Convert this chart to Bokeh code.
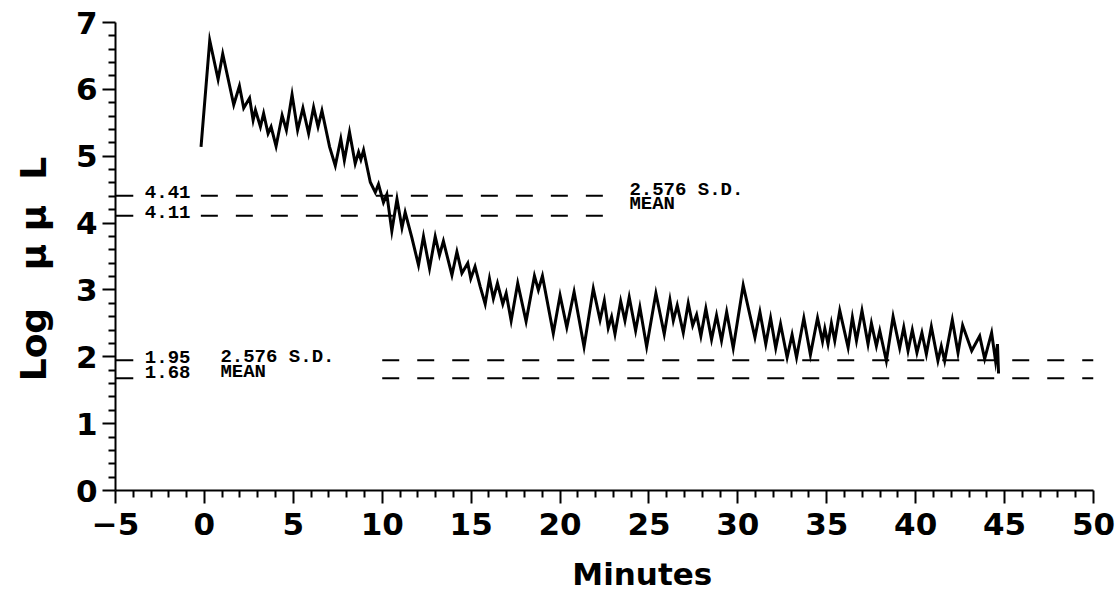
from bokeh.plotting import figure
from bokeh.models import Range1d, FixedTicker, ColumnDataSource
from bokeh.core.properties import value
from bokeh.embed import file_html
from bokeh.resources import INLINE

# ---- data ----
minutes = [-0.19, 0.30, 0.77, 1.03, 1.65, 1.97, 2.21, 2.54, 2.74, 2.87, 3.15, 3.33, 3.58, 3.75,
           4.03, 4.37, 4.61, 4.93, 5.24, 5.54, 5.86, 6.14, 6.39, 6.61, 7.04, 7.36, 7.67, 7.87,
           8.16, 8.48, 8.67, 8.80, 8.95, 9.33, 9.61, 9.79, 10.07, 10.26, 10.54, 10.83, 11.11,
           11.29, 11.67, 12.04, 12.32, 12.66, 12.98, 13.22, 13.44, 13.92, 14.20, 14.48, 14.81,
           14.98, 15.22, 15.51, 15.79, 16.03, 16.25, 16.48, 16.78, 16.97, 17.25, 17.62, 18.09,
           18.56, 18.78, 19.01, 19.62, 20.00, 20.38, 20.79, 21.35, 21.87, 22.25, 22.49, 22.71,
           22.90, 23.09, 23.41, 23.65, 23.89, 24.25, 24.49, 24.87, 25.39, 25.86, 26.18, 26.37,
           26.59, 26.93, 27.21, 27.46, 27.68, 27.92, 28.20, 28.52, 28.80, 29.08, 29.37, 29.74,
           30.30, 30.96, 31.24, 31.57, 31.84, 32.13, 32.40, 32.77, 33.05, 33.30, 33.71, 34.08,
           34.48, 34.76, 34.89, 35.07, 35.26, 35.45, 35.73, 36.20, 36.44, 36.67, 36.98, 37.32,
           37.51, 37.79, 37.98, 38.35, 38.73, 39.10, 39.33, 39.57, 39.81, 40.07, 40.35, 40.60,
           40.88, 41.25, 41.44, 41.63, 42.06, 42.38, 42.64, 43.15, 43.60, 43.88, 44.27, 44.49,
           44.60, 44.66]
log_uul = [5.14, 6.73, 6.15, 6.53, 5.77, 6.05, 5.72, 5.87, 5.54, 5.69, 5.44, 5.64, 5.34, 5.44,
           5.15, 5.61, 5.39, 5.92, 5.39, 5.72, 5.34, 5.73, 5.44, 5.68, 5.14, 4.86, 5.26, 4.94,
           5.36, 4.89, 5.06, 4.95, 5.09, 4.61, 4.46, 4.58, 4.31, 4.43, 3.88, 4.36, 3.93,
           4.16, 3.78, 3.37, 3.80, 3.32, 3.80, 3.52, 3.73, 3.22, 3.57, 3.25, 3.40,
           3.17, 3.35, 3.05, 2.79, 3.17, 2.87, 3.10, 2.79, 2.95, 2.54, 3.10, 2.53,
           3.21, 3.00, 3.21, 2.35, 2.92, 2.44, 2.97, 2.15, 3.02, 2.55, 2.84, 2.43,
           2.60, 2.34, 2.83, 2.54, 2.89, 2.39, 2.74, 2.15, 2.95, 2.34, 2.85, 2.54,
           2.77, 2.36, 2.80, 2.47, 2.63, 2.31, 2.72, 2.26, 2.62, 2.24, 2.67, 2.13,
           3.07, 2.29, 2.67, 2.19, 2.58, 2.13, 2.49, 1.99, 2.33, 1.99, 2.58, 2.03,
           2.58, 2.23, 2.42, 2.19, 2.50, 2.24, 2.69, 2.14, 2.59, 2.24, 2.69, 2.19,
           2.50, 2.16, 2.39, 1.94, 2.60, 2.13, 2.44, 2.09, 2.40, 2.06, 2.36, 2.04,
           2.45, 1.94, 2.16, 1.94, 2.55, 2.06, 2.47, 2.09, 2.31, 1.97, 2.36, 1.94,
           2.19, 1.75]

x_ticks = [-5, 0, 5, 10, 15, 20, 25, 30, 35, 40, 45, 50]
x_tick_labels = ["\u22125", "0", "5", "10", "15", "20", "25", "30", "35", "40", "45", "50"]
y_ticks = [0, 1, 2, 3, 4, 5, 6, 7]
y_tick_labels = ["0", "1", "2", "3", "4", "5", "6", "7"]

ref_values = [4.41, 4.11, 1.95, 1.68]
ref_value_labels = ["4.41", "4.11", "1.95", "1.68"]
ref_names = ["2.576 S.D.", "MEAN", "2.576 S.D.", "MEAN"]

NBSP = "\u00a0"
x_label = "Minutes"
y_label = "Log" + NBSP * 3 + "\u03bc" + NBSP + "\u03bc" + NBSP * 2 + "L"

# ---- figure ----
p = figure(width=1115, height=594, x_range=Range1d(-5, 50), y_range=Range1d(0, 7),
           output_backend="svg", toolbar_location=None,
           min_border_left=115, min_border_right=22, min_border_top=22, min_border_bottom=104)
p.outline_line_color = None
p.grid.visible = False
p.background_fill_color = "white"
p.border_fill_color = "white"

x_minor = [t for t in range(-5, 51) if t % 5 != 0]
y_minor = [round(i * 0.2, 1) for i in range(0, 36) if i % 5 != 0]
p.xaxis.ticker = FixedTicker(ticks=x_ticks, minor_ticks=x_minor)
p.yaxis.ticker = FixedTicker(ticks=y_ticks, minor_ticks=y_minor)
p.xaxis.major_label_overrides = dict(zip(x_ticks, x_tick_labels))
p.yaxis.major_label_overrides = dict(zip(y_ticks, y_tick_labels))

for ax in (p.xaxis[0], p.yaxis[0]):
    ax.axis_line_width = 2
    ax.axis_line_color = "black"
    ax.major_tick_line_width = 2
    ax.minor_tick_line_width = 2
    ax.major_tick_line_color = "black"
    ax.minor_tick_line_color = "black"
    ax.major_tick_in = 0
    ax.minor_tick_in = 0
    ax.major_tick_out = 13
    ax.minor_tick_out = 7
    ax.major_label_text_font = "DejaVu Sans"
    ax.major_label_text_font_style = "bold"
    ax.major_label_text_font_size = "31px"
    ax.major_label_text_color = "black"
    ax.axis_label_text_font = "DejaVu Sans"
    ax.axis_label_text_font_style = "bold"
    ax.axis_label_text_color = "black"

p.xaxis.major_label_standoff = 9
p.yaxis.major_label_standoff = 5

p.yaxis.axis_label = y_label + NBSP * 2
p.yaxis.axis_label_text_font_size = "36px"
p.yaxis.axis_label_standoff = 19

p.xaxis.axis_label = NBSP * 7 + x_label
p.xaxis.axis_label_text_font_size = "31px"
p.xaxis.axis_label_standoff = 18

# reference lines
for i, v in enumerate(ref_values):
    if i < 2:
        x0, x1 = -0.2, 22.5
    else:
        x0, x1 = 10.0, 50.0
    p.line([x0, x1], [v, v], line_color="black", line_width=2, line_dash="17 18")
    p.segment(x0=[-5], y0=[v], x1=[-4.0], y1=[v], line_color="black", line_width=2)

# labels of reference lines
src_left = ColumnDataSource(dict(x=[-3.35] * 4, y=ref_values, text=ref_value_labels,
                                 dy=[-3.5, -4, -3.5, -6]))
p.text(x="x", y="y", text="text", y_offset="dy", source=src_left,
       text_font=value("Liberation Mono"), text_font_style="bold", text_font_size="19px",
       text_baseline="middle", text_align="left", text_color="black")
src_right = ColumnDataSource(dict(x=[23.9, 23.9, 0.9, 0.9], y=ref_values, text=ref_names,
                                  dy=[-6, -12, -3.5, -6]))
p.text(x="x", y="y", text="text", y_offset="dy", source=src_right,
       text_font=value("Liberation Mono"), text_font_style="bold", text_font_size="19px",
       text_baseline="middle", text_align="left", text_color="black")

# data trace
p.line(minutes, log_uul, line_color="black", line_width=3, line_join="miter")

open("out.html", "w").write(file_html(p, INLINE))
